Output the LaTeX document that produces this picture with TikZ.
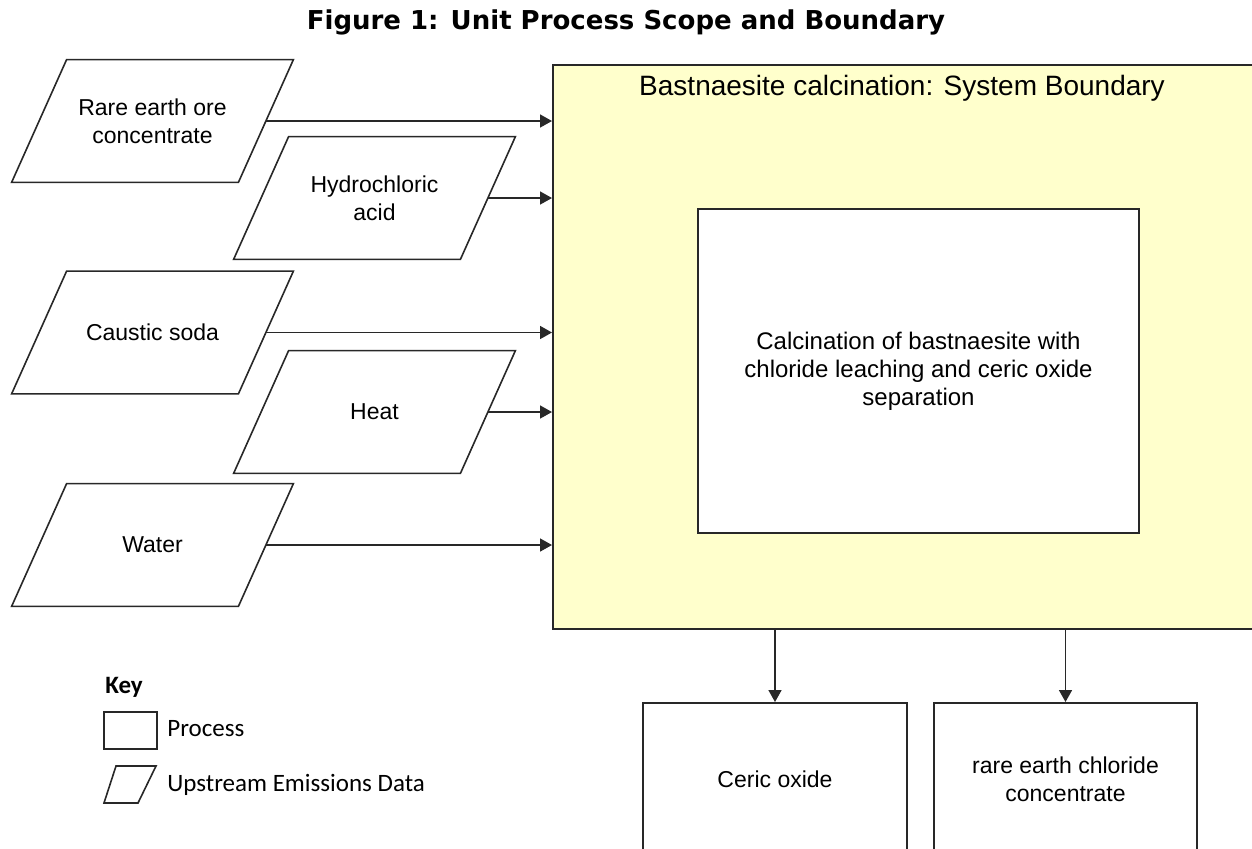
\documentclass[tikz,border=0pt]{standalone}
\usepackage{fontspec}
\setmainfont{Liberation Sans}
\newfontfamily\keyfont{Carlito}
\newfontfamily\headfont{DejaVu Sans}
\usetikzlibrary{arrows.meta}

\definecolor{boundyellow}{RGB}{255,255,204}
\definecolor{linegray}{RGB}{40,40,40}

\tikzset{
  inflow/.style={rectangle, minimum width=113pt, minimum height=61pt, inner sep=0pt,
    align=center, font=\fontsize{11.5}{14}\selectfont},
  slanted/.style={draw=linegray, line width=0.8pt},
  procbox/.style={draw=linegray, line width=0.8pt, rectangle, inner sep=0pt, align=center,
    font=\fontsize{11.5}{14}\selectfont},
  keytext/.style={font=\keyfont\fontsize{12.5}{14}\selectfont, inner sep=0pt},
  flow/.style={-{Triangle[length=6pt,width=6.5pt]}, line width=0.8pt, linegray},
}

\begin{document}
\begin{tikzpicture}[x=0.5pt, y=-0.5pt]

\useasboundingbox (0,0) rectangle (1252,848);
\clip (0,0) rectangle (1252,848);

\node[font=\headfont\bfseries\fontsize{13}{15}\selectfont] (title) at (626,22) {Figure 1: Unit Process Scope and Boundary};

% system boundary
\node[procbox, fill=boundyellow, minimum width=360pt, minimum height=282pt, anchor=north west] (sys) at (552,64) {};
\node[font=\fontsize{14}{16}\selectfont] (systitle) at (902,88) {Bastnaesite calcination: System Boundary};
\node[procbox, fill=white, minimum width=220.5pt, minimum height=162pt, font=\fontsize{12}{14}\selectfont] (calc) at (918.5,371)
  {Calcination of bastnaesite with\\chloride leaching and ceric oxide\\separation};

% inputs
\node[inflow] (ore) at (152.5,121) {Rare earth ore\\concentrate};
\node[inflow] (hcl) at (374.5,198) {Hydrochloric\\acid};
\node[inflow] (soda) at (152.5,332.5) {Caustic soda};
\node[inflow] (heat) at (374.5,412) {Heat};
\node[inflow] (water) at (152.5,545) {Water};

\foreach \n in {ore,hcl,soda,heat,water}{
  \draw[slanted] ([xshift=-13.75pt]\n.south west) -- ([xshift=13.75pt]\n.north west)
    -- ([xshift=13.75pt]\n.north east) -- ([xshift=-13.75pt]\n.south east) -- cycle;
  \draw[flow] (\n.east) -- (\n.east -| sys.west);
}

% outputs
\node[procbox, minimum width=132pt, minimum height=76pt, anchor=north] (ceric) at (775,702) {Ceric oxide};
\node[procbox, minimum width=131.5pt, minimum height=76pt, anchor=north] (rechl) at (1065.5,702) {rare earth chloride\\concentrate};

\draw[flow] (ceric.north |- sys.south) -- (ceric.north);
\draw[flow] (rechl.north |- sys.south) -- (rechl.north);

% key
\node[keytext, font=\keyfont\bfseries\fontsize{12.5}{14}\selectfont, anchor=base west] (keytitle) at (105,693) {Key};
\node[draw=linegray, line width=0.8pt, minimum width=26.5pt, minimum height=18.5pt, inner sep=0pt, anchor=north west] (keyproc) at (103,711) {};
\node[keytext, anchor=base west] (keyproclabel) at (167,736) {Process};
\draw[slanted] (104,803) -- (116,766) -- (156,766) -- (138,803) -- cycle;
\node[keytext, anchor=base west] (keyflowlabel) at (167,791) {Upstream Emissions Data};

\end{tikzpicture}
\end{document}
